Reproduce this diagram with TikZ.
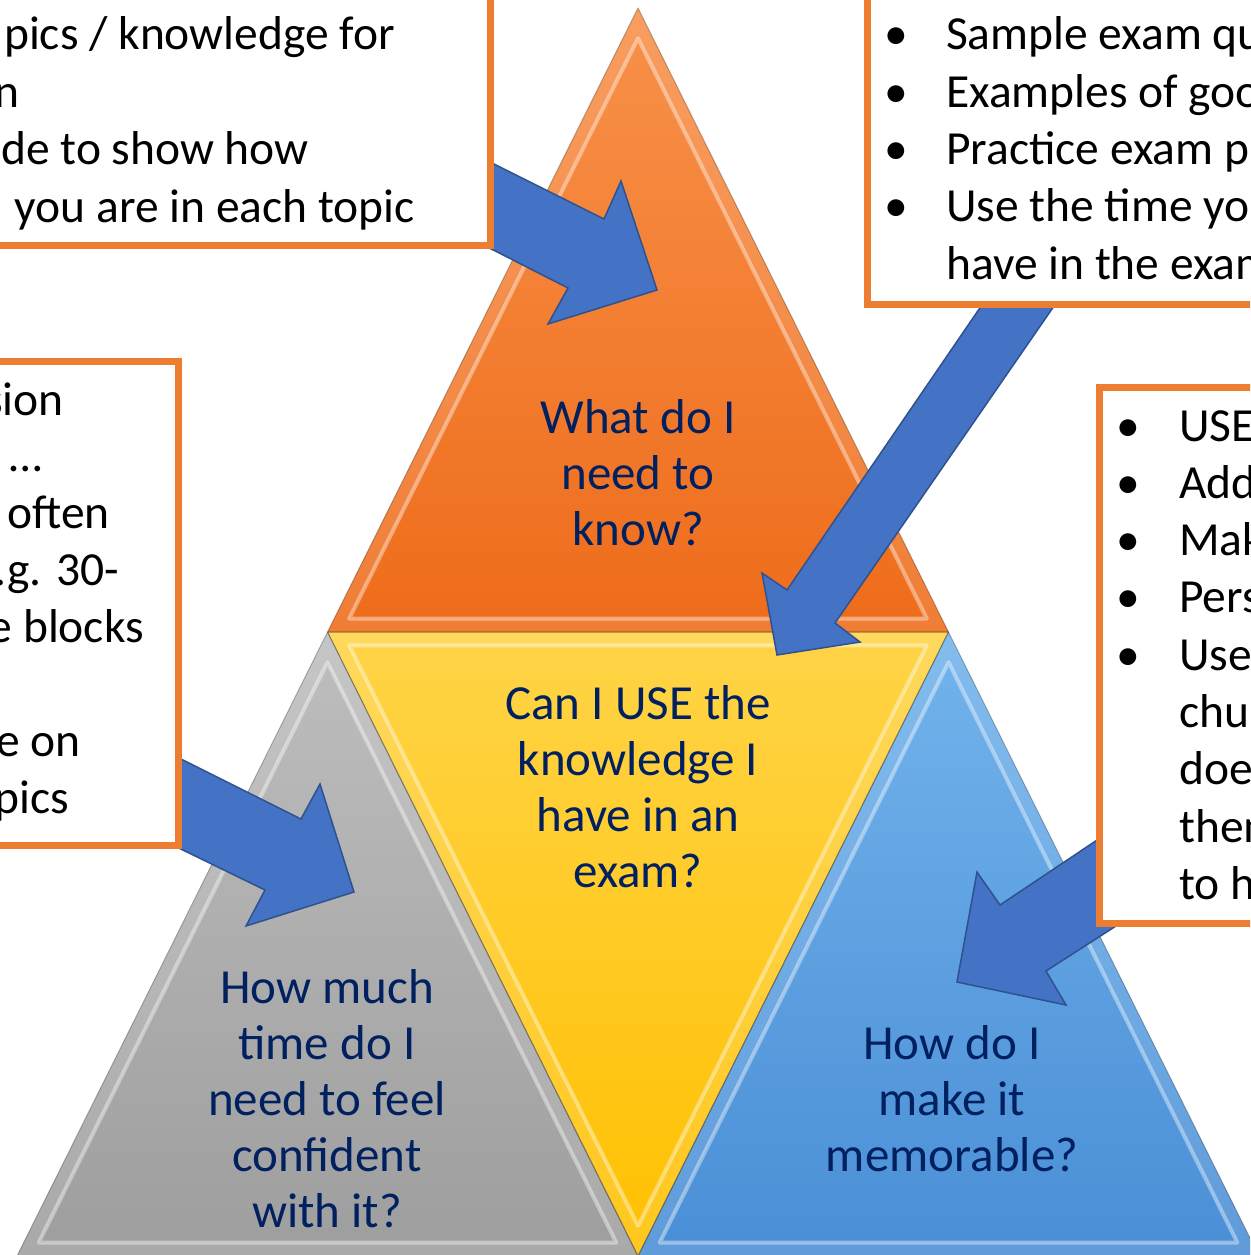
\documentclass[tikz,border=0pt]{standalone}
\usepackage{fontspec}
\setmainfont{Carlito}
\usetikzlibrary{calc}
\definecolor{navy}{HTML}{002060}
\definecolor{boxorange}{HTML}{ED7D31}
\definecolor{arrowblue}{HTML}{4472C4}
\definecolor{arrowedge}{HTML}{2F528F}
\definecolor{orTop}{HTML}{F8914A}
\definecolor{orBot}{HTML}{EE6C1A}
\definecolor{yeTop}{HTML}{FFD447}
\definecolor{yeBot}{HTML}{FFC000}
\definecolor{grTop}{HTML}{BEBEBE}
\definecolor{grBot}{HTML}{9E9E9E}
\definecolor{blTop}{HTML}{72B4EC}
\definecolor{blBot}{HTML}{4A8ED6}
\newcommand{\bl}[1]{\makebox[70pt][l]{\makebox[40pt][c]{•}}#1}
\begin{document}
\begin{tikzpicture}[x=1pt,y=-1pt,
  boxframe/.style={draw=boxorange, line width=7pt, fill=white},
  blockarrow/.style={fill=arrowblue, draw=arrowedge, line width=1.5pt, line join=miter},
  tritext/.style={text=navy, inner sep=0pt, anchor=base, font=\fontsize{49}{56.2}\selectfont},
  boxtext/.style={text=black, inner sep=0pt, anchor=base west, font=\fontsize{47.5}{57.3}\selectfont},
  cuttext/.style={text=black, inner sep=0pt, anchor=base east, font=\fontsize{47.5}{57.3}\selectfont},
  bevel/.style={draw=white, line width=4pt, opacity=0.4, line join=round},
  bevelband/.style={fill=white, opacity=0.12, even odd rule},
  triedge/.style={draw=black, opacity=0.25, line width=1pt, line join=round}]
\useasboundingbox (0,0) rectangle (1250,1255);
\clip (0,0) rectangle (1250,1255);
\fill[white] (0,0) rectangle (1250,1255);

% triangle corners
\coordinate (A) at (638,8);
\coordinate (ML) at (327.5,632);
\coordinate (MR) at (948.5,632);
\coordinate (BL) at (17,1256);
\coordinate (MB) at (638,1256);
\coordinate (BR) at (1259,1256);
% incentres
\coordinate (Io) at (638,439.7);
\coordinate (Iy) at (638,824.3);
\coordinate (Ig) at (327.5,1063.7);
\coordinate (Ib) at (948.5,1063.7);

% faces
\shade[top color=orTop, bottom color=orBot] (A) -- (ML) -- (MR) -- cycle;
\shade[top color=yeTop, bottom color=yeBot] (ML) -- (MR) -- (MB) -- cycle;
\shade[top color=grTop, bottom color=grBot] (ML) -- (BL) -- (MB) -- cycle;
\shade[top color=blTop, bottom color=blBot] (MR) -- (MB) -- (BR) -- cycle;

% bevels
\foreach \I/\P/\Q/\R in {Io/A/ML/MR, Iy/ML/MR/MB, Ig/ML/BL/MB, Ib/MR/MB/BR}{
  \path[bevelband] (\P) -- (\Q) -- (\R) -- cycle
     ($(\I)!0.93!(\P)$) -- ($(\I)!0.93!(\Q)$) -- ($(\I)!0.93!(\R)$) -- cycle;
  \draw[bevel] ($(\I)!0.93!(\P)$) -- ($(\I)!0.93!(\Q)$) -- ($(\I)!0.93!(\R)$) -- cycle;
  \draw[triedge] (\P) -- (\Q) -- (\R) -- cycle;
}

% triangle labels
\node[tritext] (know) at (638,433.5) {\begin{tabular}[t]{@{}c@{}}What do I\\need to\\know?\end{tabular}};
\node[tritext] (use) at (638,719) {\begin{tabular}[t]{@{}c@{}}Can I USE the\\knowledge I\\have in an\\exam?\end{tabular}};
\node[tritext] (time) at (327,1003) {\begin{tabular}[t]{@{}c@{}}How much\\time do I\\need to feel\\confident\\with it?\end{tabular}};
\node[tritext] (memo) at (952,1059) {\begin{tabular}[t]{@{}c@{}}How do I\\make it\\memorable?\end{tabular}};

% block arrows
\draw[blockarrow] (454,144) -- (604,219) -- (621,181) -- (657,290) -- (548,324) -- (568,288) -- (454,230) -- cycle;
\draw[blockarrow] (999,280) -- (787,590) -- (762,573) -- (777,655) -- (860,642) -- (835,623) -- (1072,280) -- cycle;
\draw[blockarrow] (150,743.5) -- (301,819) -- (320,784) -- (354,892) -- (246,926) -- (265,890) -- (150,834) -- cycle;
\draw[blockarrow] (1130,818) -- (1000,905) -- (977,872) -- (957,982) -- (1066,1005) -- (1046,971) -- (1130,917) -- cycle;

% boxes
\draw[boxframe] (-30,-30) rectangle (490,245);
\draw[boxframe] (867,-30) rectangle (1290,304);
\draw[boxframe] (-30,361) rectangle (178,845);
\draw[boxframe] (1099,387) rectangle (1290,923);

% top-left box text (cut at left)
\node[cuttext] (tl1) at (395,50) {pics / knowledge for};
\node[cuttext] (tl2) at (20,107) {n};
\node[cuttext] (tl3) at (309,164.5) {de to show how};
\node[cuttext] (tl4) at (415,222) {you are in each topic};

% left box text (cut at left)
\node[cuttext] (lb1) at (64,415) {sion};
\node[cuttext] (lb2) at (42,471.5) {…};
\node[cuttext] (lb3) at (110,528.5) {often};
\node[cuttext] (lb4) at (119,585.5) {.g. 30-};
\node[cuttext] (lb5) at (144,642) {e blocks};
\node[cuttext] (lb6) at (81,756) {e on};
\node[cuttext] (lb7) at (69,813) {pics};

% top-right box text
\node[boxtext] (trtext) at (876,50) {\begin{tabular}[t]{@{}l@{}}\bl{Sample exam qu}\\\bl{Examples of goo}\\\bl{Practice exam p}\\\bl{Use the time yo}\\\hspace*{70pt}have in the exam\end{tabular}};

% right box text
\node[boxtext] (rbtext) at (1109,441) {\begin{tabular}[t]{@{}l@{}}\makebox[70pt][l]{\makebox[38pt][c]{•}}USE\\\makebox[70pt][l]{\makebox[38pt][c]{•}}Add\\\makebox[70pt][l]{\makebox[38pt][c]{•}}Mak\\\makebox[70pt][l]{\makebox[38pt][c]{•}}Pers\\\makebox[70pt][l]{\makebox[38pt][c]{•}}Use\\\hspace*{70pt}chu\\\hspace*{70pt}doe\\\hspace*{70pt}them\\\hspace*{70pt}to h\end{tabular}};
\end{tikzpicture}
\end{document}
